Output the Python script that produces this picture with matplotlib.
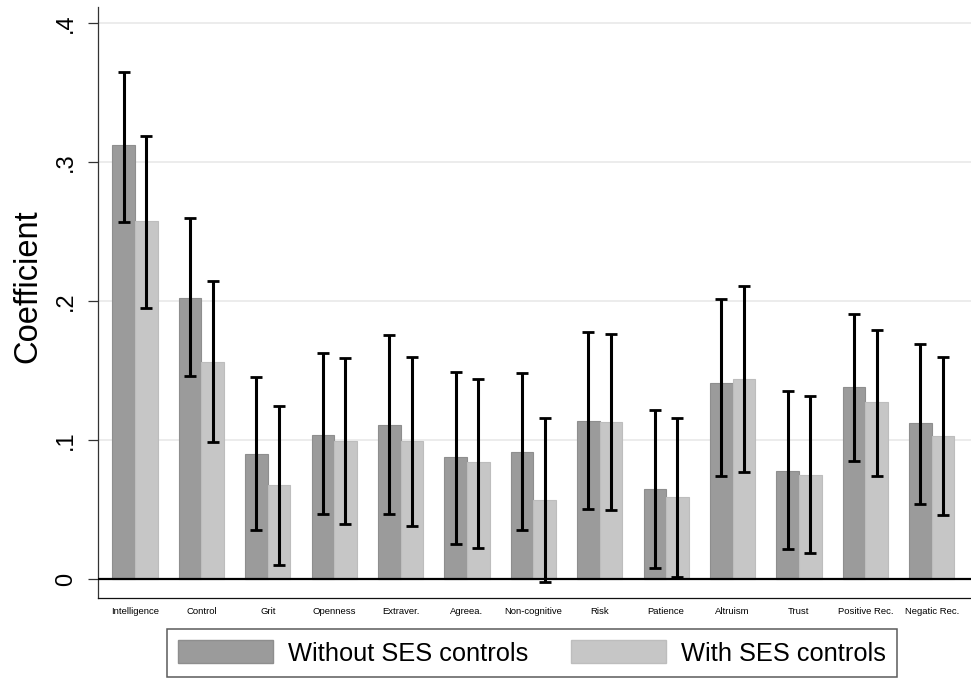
import numpy as np
import matplotlib.pyplot as plt
from matplotlib.patches import Patch

plt.rcParams['font.family'] = ['Liberation Sans', 'DejaVu Sans']

categories = ['Intelligence', 'Control', 'Grit', 'Openness', 'Extraver.', 'Agreea.',
              'Non-cognitive', 'Risk', 'Patience', 'Altruism', 'Trust',
              'Positive Rec.', 'Negatic Rec.']

# point estimates and 95% CI bounds
coef_no_ses = [0.3128, 0.2022, 0.0902, 0.1041, 0.1111, 0.0882, 0.0916,
               0.1142, 0.0649, 0.1414, 0.0781, 0.1383, 0.1126]
lo_no_ses = [0.2569, 0.1460, 0.0351, 0.0469, 0.0469, 0.0257, 0.0351,
             0.0509, 0.0079, 0.0740, 0.0219, 0.0851, 0.0538]
hi_no_ses = [0.3648, 0.2597, 0.1452, 0.1625, 0.1755, 0.1493, 0.1483,
             0.1779, 0.1219, 0.2015, 0.1354, 0.1912, 0.1696]

coef_ses = [0.2578, 0.1563, 0.0680, 0.0993, 0.0993, 0.0846, 0.0572,
            0.1133, 0.0592, 0.1443, 0.0750, 0.1274, 0.1032]
lo_ses = [0.1955, 0.0989, 0.0101, 0.0399, 0.0382, 0.0228, -0.0022,
          0.0500, 0.0019, 0.0774, 0.0188, 0.0740, 0.0459]
hi_ses = [0.3192, 0.2145, 0.1250, 0.1592, 0.1602, 0.1443, 0.1162,
          0.1765, 0.1162, 0.2107, 0.1318, 0.1794, 0.1602]

yticks = [0, 0.1, 0.2, 0.3, 0.4]
ytick_labels = ['0', '.1', '.2', '.3', '.4']

dark = '#9b9b9b'
light = '#c6c6c6'

fig = plt.figure(figsize=(9.71, 6.78), dpi=100)
ax = fig.add_axes([0.1009, 0.1176, 0.899, 0.8714])

x = np.arange(len(categories))
w = 0.34

ax.bar(x - w / 2, coef_no_ses, w, color=dark, edgecolor='#8e8e8e', linewidth=0.8, zorder=2)
ax.bar(x + w / 2, coef_ses, w, color=light, edgecolor='#bdbdbd', linewidth=0.8, zorder=2)

for xs, c, lo, hi in [(x - w / 2, coef_no_ses, lo_no_ses, hi_no_ses),
                      (x + w / 2, coef_ses, lo_ses, hi_ses)]:
    c = np.array(c)
    err = [c - np.array(lo), np.array(hi) - c]
    ax.errorbar(xs, c, yerr=err, fmt='none', ecolor='black', elinewidth=2.2,
                capsize=4.3, capthick=2.0, zorder=4)

ax.axhline(0, color='black', linewidth=1.6, zorder=3)
for yv in yticks[1:]:
    ax.axhline(yv, color='#eaeaea', linewidth=1.3, zorder=0)

ax.set_xlim(-0.557, 12.59)
ax.set_ylim(-0.0137, 0.4115)

ax.set_yticks(yticks)
ax.set_yticklabels(ytick_labels, rotation=90, va='center', fontsize=17)
ax.tick_params(axis='y', length=7, width=0.9, color='#333333', pad=8)

ax.set_xticks(x)
ax.set_xticklabels(categories, fontsize=6.8)
ax.tick_params(axis='x', length=0, pad=6)

ax.set_ylabel('Coefficient', fontsize=23.5)
ax.yaxis.set_label_coords(-0.063, 0.528)

for side in ['top', 'right']:
    ax.spines[side].set_visible(False)
ax.spines['left'].set_color('#333333')
ax.spines['left'].set_linewidth(0.9)
ax.spines['bottom'].set_color('#111111')
ax.spines['bottom'].set_linewidth(0.9)

handles = [Patch(facecolor=dark, edgecolor='#8e8e8e'),
           Patch(facecolor=light, edgecolor='#bdbdbd')]
leg = fig.legend(handles, ['Without SES controls', 'With SES controls'],
                 loc='center', bbox_to_anchor=(0.548, 0.0369), ncol=2,
                 fontsize=18.3, frameon=True, fancybox=False, edgecolor='#333333',
                 handlelength=3.74, handleheight=1.02, columnspacing=1.66,
                 handletextpad=0.59, borderpad=0.45, borderaxespad=0)
leg.get_frame().set_linewidth(1.1)

fig.savefig('out.png', dpi=100)
